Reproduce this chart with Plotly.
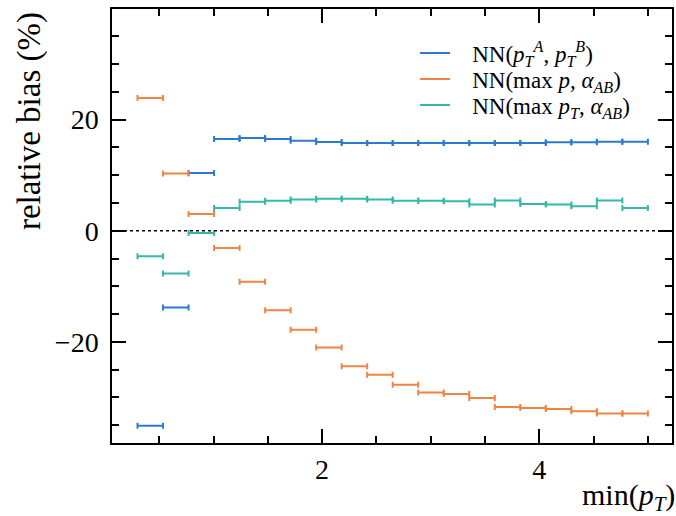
import plotly.graph_objects as go

# bin edges in min(p_T)
x_edges = [0.30, 0.535, 0.77, 1.005, 1.24, 1.475, 1.71, 1.945, 2.18, 2.415, 2.65,
           2.885, 3.12, 3.355, 3.59, 3.825, 4.06, 4.295, 4.53, 4.765, 5.00]

bias_pt_ab = [-35.1, -13.8, 10.4, 16.5, 16.7, 16.5, 16.2, 15.95, 15.8, 15.8, 15.8,
              15.8, 15.8, 15.8, 15.8, 15.8, 15.9, 15.9, 16.0, 16.0]
bias_maxp = [23.9, 10.3, 3.0, -3.1, -9.2, -14.3, -17.8, -21.0, -24.4, -25.9, -27.7,
             -29.1, -29.4, -30.1, -31.7, -31.9, -32.1, -32.5, -32.9, -32.9]
bias_maxpt = [-4.6, -7.7, -0.4, 4.1, 5.2, 5.4, 5.6, 5.75, 5.75, 5.6, 5.4,
              5.4, 5.3, 4.7, 5.45, 4.8, 4.7, 4.4, 5.45, 4.1]

series_names = [
    "NN(<i>p</i><sub><i>T</i></sub><sup><i>A</i></sup>, <i>p</i><sub><i>T</i></sub><sup><i>B</i></sup>)",
    "NN(max <i>p</i>, <i>α</i><sub><i>AB</i></sub>)",
    "NN(max <i>p</i><sub><i>T</i></sub>, <i>α</i><sub><i>AB</i></sub>)",
]
series_values = [bias_pt_ab, bias_maxp, bias_maxpt]
colors = ["#2b7bd3", "#f08443", "#34b8ab"]
legend_ids = ["legend", "legend2", "legend3"]

centers = [(a + b) / 2 for a, b in zip(x_edges[:-1], x_edges[1:])]
halfw = [(b - a) / 2 for a, b in zip(x_edges[:-1], x_edges[1:])]

FONT = "Liberation Serif"
fig = go.Figure()
for name, vals, col in zip(series_names, series_values, colors):
    fig.add_trace(go.Scatter(
        x=centers, y=vals, mode="markers",
        marker=dict(size=1, color=col, opacity=0),
        error_x=dict(type="data", array=halfw, visible=True, color=col,
                     thickness=2, width=3),
        showlegend=False, hoverinfo="skip",
    ))
for name, col, lg in zip(series_names, colors, legend_ids):
    fig.add_trace(go.Scatter(
        x=[None], y=[None], mode="lines", name="\u00a0\u00a0\u00a0" + name,
        line=dict(color=col, width=2), legend=lg,
    ))

fig.add_hline(y=0, line=dict(color="black", width=1.5, dash="dot"), layer="above")

axis_common = dict(
    showline=True, linecolor="black", linewidth=1.5, mirror="ticks",
    ticks="inside", tickcolor="black", tickwidth=1.5, ticklen=14,
    showgrid=False, zeroline=False,
    tickfont=dict(family=FONT, size=28, color="black"),
)
fig.update_xaxes(range=[0.065, 5.222], dtick=2, tick0=0,
                 minor=dict(dtick=0.5, ticks="inside", ticklen=7, tickcolor="black", tickwidth=1.5),
                 ticklabelstandoff=1, **axis_common)
fig.update_yaxes(range=[-38.2, 39.9], dtick=20, tick0=0,
                 minor=dict(dtick=5, ticks="inside", ticklen=7, tickcolor="black", tickwidth=1.5),
                 ticklabelstandoff=6, **axis_common)

fig.add_annotation(text="relative bias (%)", textangle=-90, xref="paper", yref="paper",
                   x=-0.146, y=0.998, xanchor="center", yanchor="top", showarrow=False,
                   font=dict(family=FONT, size=33, color="black"))
fig.add_annotation(text="min(<i>p</i><sub><i>T</i></sub>)", xref="paper", yref="paper",
                   x=1.0, y=-0.124, xanchor="right", yanchor="middle", showarrow=False,
                   xshift=5, font=dict(family=FONT, size=30, color="black"))

leg_style = dict(xanchor="left", yanchor="middle", bgcolor="rgba(0,0,0,0)",
                 font=dict(family=FONT, size=23, color="black"), itemwidth=30)
fig.update_layout(
    width=676, height=516,
    margin=dict(l=112, r=2, t=9, b=73),
    plot_bgcolor="white", paper_bgcolor="white",
    font=dict(family=FONT, color="black"),
    legend=dict(x=0.541, y=0.8986, **leg_style),
    legend2=dict(x=0.541, y=0.8387, **leg_style),
    legend3=dict(x=0.541, y=0.7788, **leg_style),
)
fig.write_html("out.html", config={"displayModeBar": False},
               post_script="document.body.style.margin='0';document.body.style.padding='0';")
